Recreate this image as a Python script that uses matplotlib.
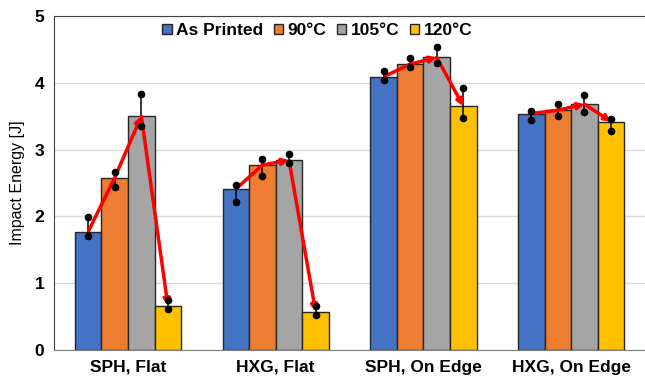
import numpy as np
import matplotlib.pyplot as plt

plt.rcParams['font.family'] = ['Liberation Sans', 'DejaVu Sans']

# data
groups = ['SPH, Flat', 'HXG, Flat', 'SPH, On Edge', 'HXG, On Edge']
series = ['As Printed', '90°C', '105°C', '120°C']
colors = ['#4472C4', '#ED7D31', '#A5A5A5', '#FFC000']

energy = [
    [1.77, 2.41, 4.09, 3.54],   # As Printed
    [2.58, 2.77, 4.28, 3.59],   # 90
    [3.50, 2.84, 4.38, 3.68],   # 105
    [0.66, 0.57, 3.65, 3.42],   # 120
]
err_lo = [
    [1.70, 2.22, 4.04, 3.45],
    [2.44, 2.61, 4.24, 3.50],
    [3.35, 2.80, 4.30, 3.56],
    [0.61, 0.52, 3.47, 3.28],
]
err_hi = [
    [1.99, 2.47, 4.17, 3.58],
    [2.66, 2.86, 4.37, 3.69],
    [3.84, 2.93, 4.53, 3.82],
    [0.74, 0.66, 3.92, 3.46],
]

fig = plt.figure(figsize=(6.45, 3.82), dpi=100)
ax = fig.add_axes([0.084, 0.084, 0.916, 0.874])

x = np.arange(len(groups))
w = 0.18
offsets = (np.arange(len(series)) - 1.5) * w

for i, name in enumerate(series):
    ax.bar(x + offsets[i], energy[i], w, color=colors[i], edgecolor='#262626',
           linewidth=1.0, label=name, zorder=2)

# min/max error bars with dots at both ends
for i in range(len(series)):
    for j in range(len(groups)):
        xx = x[j] + offsets[i]
        ax.plot([xx, xx], [err_lo[i][j], err_hi[i][j]], color='black', lw=1.1, zorder=3)
        ax.plot([xx, xx], [err_lo[i][j], err_hi[i][j]], 'o', color='black', ms=4.5, zorder=5)

# red trend lines with arrowheads
for j in range(len(groups)):
    xs = x[j] + offsets
    ys = [energy[i][j] for i in range(len(series))]
    ax.plot(xs[:2], ys[:2], color='red', lw=2.5, zorder=4, solid_capstyle='butt')
    for k in (1, 2):
        ax.annotate('', xy=(xs[k + 1], ys[k + 1]), xytext=(xs[k], ys[k]),
                    arrowprops=dict(arrowstyle='-|>', color='red', lw=2.5,
                                    mutation_scale=9, shrinkA=0, shrinkB=0),
                    zorder=4)

ax.set_xlim(-0.5, 3.5)
ax.set_ylim(0, 5)
ax.set_yticks(range(6))
ax.set_xticks(x)
ax.set_xticklabels(groups)
for lab in ax.get_xticklabels() + ax.get_yticklabels():
    lab.set_fontweight('bold')
    lab.set_fontsize(12.5)
ax.tick_params(length=0, pad=7)
ax.set_ylabel('Impact Energy [J]', fontsize=11.5, labelpad=7)

ax.yaxis.grid(True, color='#D9D9D9', lw=1, zorder=0)
ax.set_axisbelow(True)
ax.spines['right'].set_visible(False)
ax.spines['top'].set_color('#404040')
ax.spines['left'].set_color('#404040')
ax.spines['bottom'].set_color('#808080')

ax.legend(loc='upper center', ncol=4, frameon=False, bbox_to_anchor=(0.445, 1.025),
          prop={'weight': 'bold', 'size': 12.5}, handlelength=0.55, handleheight=0.55,
          handletextpad=0.25, columnspacing=0.6)

fig.savefig('out.png', dpi=100)
